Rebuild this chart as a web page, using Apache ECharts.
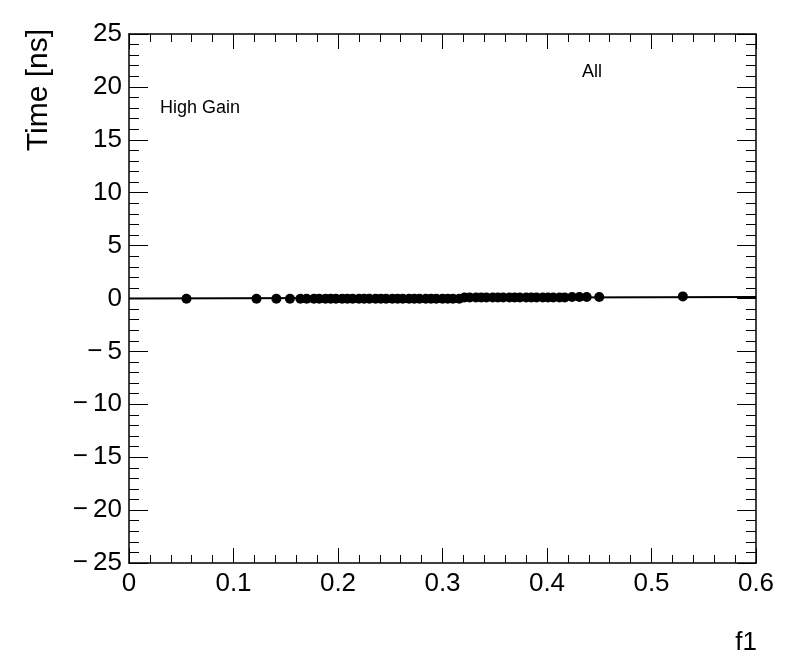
<!DOCTYPE html>
<html>
<head>
<meta charset="utf-8">
<script src="https://cdn.jsdelivr.net/npm/echarts@6/dist/echarts.min.js"></script>
<style>
html,body{margin:0;padding:0;background:#fff;}
#c{width:796px;height:672px;}
</style>
</head>
<body>
<div id="c"></div>
<script>
// Data
const xValues = [0.055, 0.122, 0.141, 0.154, 0.164, 0.170, 0.177,
  0.182, 0.188, 0.193, 0.198, 0.204, 0.209, 0.214, 0.220, 0.225, 0.230,
  0.236, 0.241, 0.246, 0.252, 0.257, 0.262, 0.268, 0.273, 0.278, 0.284,
  0.289, 0.294, 0.300, 0.305, 0.310, 0.316, 0.321, 0.326, 0.332, 0.337,
  0.342, 0.348, 0.353, 0.358, 0.364, 0.369, 0.374, 0.380, 0.385, 0.390,
  0.396, 0.401, 0.406, 0.412, 0.417, 0.424, 0.431, 0.438, 0.450, 0.530];
const yValues = [-0.03, -0.03, -0.03, -0.03, -0.03, -0.03, -0.03,
  -0.03, -0.03, -0.03, -0.03, -0.03, -0.03, -0.03, -0.03, -0.03, -0.03,
  -0.03, -0.03, -0.03, -0.03, -0.03, -0.03, -0.03, -0.03, -0.03, -0.03,
  -0.03, -0.03, -0.03, -0.03, -0.03, -0.03, 0.10, 0.10, 0.10, 0.10,
  0.10, 0.10, 0.10, 0.10, 0.10, 0.10, 0.10, 0.10, 0.10, 0.10,
  0.10, 0.10, 0.10, 0.10, 0.10, 0.15, 0.15, 0.15, 0.15, 0.20];
const fitX = [0, 0.6];
const fitY = [0.0, 0.15];
const xTickLabels = ['0', '0.1', '0.2', '0.3', '0.4', '0.5', '0.6'];
const xName = 'f1';
const yName = 'Time [ns]';
const label1 = 'High Gain';
const label2 = 'All';

const FONT = 'Liberation Sans, Arial, Helvetica, sans-serif';
const chart = echarts.init(document.getElementById('c'), null, {renderer: 'canvas'});

function xAxisCfg(pos, showLabel) {
  return {
    type: 'value', position: pos, min: 0, max: 0.6, interval: 0.1,
    axisLine: {show: true, onZero: false, lineStyle: {color: '#000', width: 1.5}},
    axisTick: {show: true, inside: true, length: 15, lineStyle: {color: '#000', width: 1}},
    minorTick: {show: true, splitNumber: 5, length: 8, lineStyle: {color: '#000', width: 1}},
    splitLine: {show: false}, minorSplitLine: {show: false},
    axisLabel: {show: showLabel, margin: 8, color: '#000', fontSize: 26, fontFamily: FONT,
      formatter: v => xTickLabels[Math.round(v * 10)] }
  };
}
function yAxisCfg(pos, showLabel) {
  return {
    type: 'value', position: pos, min: -25, max: 25, interval: 5,
    axisLine: {show: true, onZero: false, lineStyle: {color: '#000', width: 1.5}},
    axisTick: {show: true, inside: true, length: 19, lineStyle: {color: '#000', width: 1}},
    minorTick: {show: true, splitNumber: 5, length: 10, lineStyle: {color: '#000', width: 1}},
    splitLine: {show: false}, minorSplitLine: {show: false},
    axisLabel: {show: showLabel, margin: 7, color: '#000', fontSize: 26, fontFamily: FONT,
      formatter: v => String(v).replace('-', '\u2212\u2009') }
  };
}

chart.setOption({
  animation: false,
  backgroundColor: '#fff',
  grid: {left: 129, right: 40, top: 34, bottom: 109, containLabel: false},
  xAxis: [xAxisCfg('bottom', true), xAxisCfg('top', false)],
  yAxis: [yAxisCfg('left', true), yAxisCfg('right', false)],
  series: [
    {
      type: 'line', xAxisIndex: 0, yAxisIndex: 0,
      data: fitX.map((x, i) => [x, fitY[i]]),
      showSymbol: false, symbol: 'none',
      lineStyle: {color: '#000', width: 2}, z: 2
    },
    {
      type: 'scatter', xAxisIndex: 0, yAxisIndex: 0,
      data: xValues.map((x, i) => [x, yValues[i]]),
      symbol: 'circle', symbolSize: 10,
      itemStyle: {color: '#000', opacity: 1}, z: 3
    }
  ],
  graphic: [
    {type: 'text', left: 160, top: 99, style: {text: label1, font: '18px ' + FONT, fill: '#000'}},
    {type: 'text', left: 582, top: 63, style: {text: label2, font: '18px ' + FONT, fill: '#000'}},
    {type: 'text', x: 757, y: 643, style: {text: xName, font: '26px ' + FONT, fill: '#000', textAlign: 'right', textVerticalAlign: 'middle'}},
    {type: 'text', x: 39, y: 29, rotation: Math.PI / 2, style: {text: yName, font: '30px ' + FONT, fill: '#000', textAlign: 'right', textVerticalAlign: 'middle'}}
  ]
});
</script>
</body>
</html>
